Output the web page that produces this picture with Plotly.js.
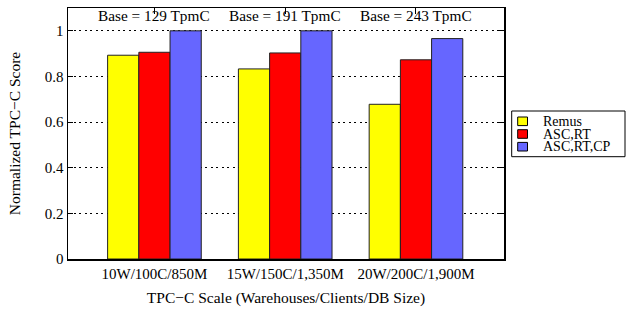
<!DOCTYPE html>
<html>
<head>
<meta charset="utf-8">
<script src="https://cdn.plot.ly/plotly-3.0.1.min.js"></script>
<style>html,body{margin:0;padding:0;background:#fff;}#chart{width:626px;height:310px;}</style>
</head>
<body>
<div id="chart"></div>
<script>
const categories = ["10W/100C/850M", "15W/150C/1,350M", "20W/200C/1,900M"];
const baseLabels = ["Base = 129 TpmC", "Base = 191 TpmC", "Base = 243 TpmC"];
const remus = [0.893, 0.833, 0.678];
const ascRt = [0.906, 0.903, 0.873];
const ascRtCp = [1.0, 1.0, 0.966];
const seriesNames = ["Remus", "ASC,RT", "ASC,RT,CP"];
const colors = ["#ffff00", "#ff0000", "#6666ff"];
const yTicks = [0, 0.2, 0.4, 0.6, 0.8, 1];

const xs = categories.map((c, i) => i);
const series = [remus, ascRt, ascRtCp];
const traces = series.map((vals, k) => ({
  type: "bar",
  x: xs,
  y: vals,
  name: seriesNames[k],
  marker: {color: colors[k], line: {color: "#222", width: 1}},
  hoverinfo: "none"
}));

const FAM = "Liberation Serif";
function mkFont(size) { return {family: FAM, size: size, color: "#000"}; }

const annotations = baseLabels.map((t, i) => ({
  x: i, y: 1.065, xref: "x", yref: "y", text: t, showarrow: false,
  font: mkFont(15.3), xanchor: "center", yanchor: "middle"
}));

// manual legend (paper coordinates)
const PL = 68, PR = 504, PT = 8, PB = 259;
const px = v => (v - PL) / (PR - PL);
const py = v => (PB - v) / (PB - PT);
const shapes = [{
  type: "rect", xref: "paper", yref: "paper",
  x0: px(511.7), x1: px(625), y0: py(156.7), y1: py(111),
  line: {color: "#000", width: 1}, fillcolor: "#fff"
}];
const rowCenters = [121.3, 134, 146.7];
seriesNames.forEach((n, k) => {
  shapes.push({
    type: "rect", xref: "paper", yref: "paper",
    x0: px(517.7), x1: px(527.5), y0: py(rowCenters[k] + 4.3), y1: py(rowCenters[k] - 4.3),
    line: {color: "#000", width: 1}, fillcolor: colors[k]
  });
  annotations.push({
    xref: "paper", yref: "paper", x: px(540.5), y: py(rowCenters[k]),
    xanchor: "left", yanchor: "middle", text: n, showarrow: false,
    font: mkFont(14)
  });
});

const layout = {
  width: 626, height: 310,
  margin: {l: PL, r: 626 - PR, t: PT, b: 310 - PB},
  paper_bgcolor: "#fff", plot_bgcolor: "#fff",
  font: mkFont(15),
  barmode: "group",
  bargap: 0.284,
  bargroupgap: 0,
  showlegend: false,
  xaxis: {
    range: [-0.661, 2.673],
    tickvals: xs, ticktext: categories,
    ticks: "inside", ticklen: 6, tickcolor: "#000",
    showline: true, linecolor: "#000", linewidth: 1.5, mirror: "ticks",
    showgrid: false, zeroline: false,
    layer: "below traces",
    tickfont: mkFont(15),
    title: {text: "TPC\u2212C Scale (Warehouses/Clients/DB Size)", font: mkFont(15.5), standoff: 11}
  },
  yaxis: {
    range: [0, 1.1],
    tickvals: yTicks, ticktext: yTicks.map(v => String(v)),
    ticks: "inside", ticklen: 5, tickcolor: "#000",
    showline: true, linecolor: "#000", linewidth: 1.5, mirror: "ticks",
    showgrid: true, gridcolor: "#000", griddash: "2px,3.5px", gridwidth: 1,
    zeroline: false,
    layer: "below traces",
    tickfont: mkFont(15),
    title: {text: "Normalized TPC\u2212C Score", font: mkFont(15.5), standoff: 20}
  },
  shapes: shapes,
  annotations: annotations
};

Plotly.newPlot("chart", traces, layout, {displayModeBar: false, staticPlot: true});
</script>
</body>
</html>
